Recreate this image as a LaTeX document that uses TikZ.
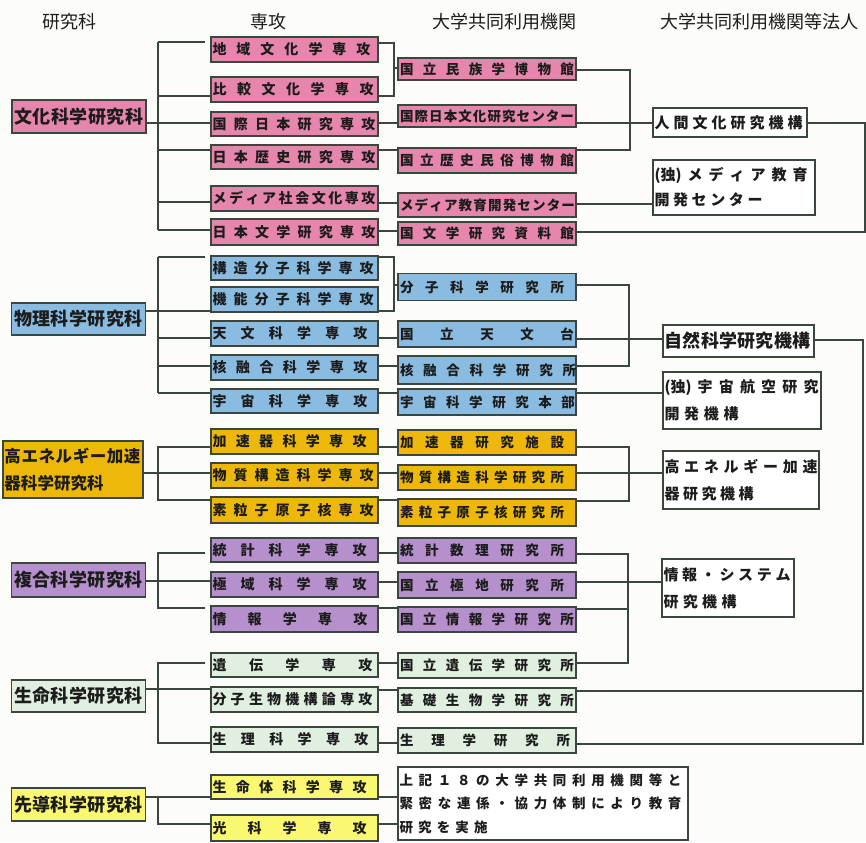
\documentclass[tikz,border=0pt]{standalone}
\usepackage{fontspec}
\newfontfamily\jp{Noto Sans CJK JP}
\makeatletter
\newcommand\spr[2]{\leavevmode\hbox to #1{\let\spr@sep\relax\@tfor\spr@c:=#2\do{\spr@sep\spr@c\let\spr@sep\hfill}}}
\makeatother
\newcommand\mj[2][161pt]{\hbox to 167pt{\hskip1.5pt\spr{#1}{#2}\hss}}
\newcommand\ins[2][174pt]{\hbox to 178pt{\hskip2pt\spr{#1}{#2}\hss}}
\definecolor{pinkc}{RGB}{230,134,172}
\definecolor{bluec}{RGB}{138,188,226}
\definecolor{goldc}{RGB}{238,184,10}
\definecolor{purpc}{RGB}{182,144,204}
\definecolor{greenc}{RGB}{224,239,224}
\definecolor{yelc}{RGB}{250,248,112}
\definecolor{bgc}{RGB}{252,252,248}
\definecolor{lc}{RGB}{58,70,62}
\definecolor{tx}{RGB}{28,28,28}
\begin{document}
\begin{tikzpicture}[x=1pt,y=-1pt,
  ln/.style={draw=lc,line width=1.2pt},
  bx/.style={draw=lc,line width=1.3pt,inner sep=0pt,anchor=center,text=tx},
  maj/.style={bx,minimum width=167pt,minimum height=25pt,font=\jp\bfseries\fontsize{14pt}{14pt}\selectfont},
  inst/.style={bx,minimum width=178pt,minimum height=24pt,font=\jp\bfseries\fontsize{13.5pt}{13.5pt}\selectfont},
  dept/.style={bx,minimum width=134pt,minimum height=33pt,font=\jp\bfseries\fontsize{18pt}{18pt}\selectfont},
  corp/.style={bx,fill=white,inner sep=1.5pt,align=left,font=\jp\bfseries\fontsize{15pt}{27pt}\selectfont},
  hdr/.style={inner sep=0pt,text=tx,font=\jp\fontsize{18pt}{18pt}\selectfont}]
\useasboundingbox (0,0) rectangle (866,842);
\fill[bgc] (0,0) rectangle (866,842);
% headers
\node[hdr] (h1) at (69,22) {研究科};
\node[hdr] (h2) at (268,22) {専攻};
\node[hdr] (h3) at (504,22) {大学共同利用機関};
\node[hdr] (h4) at (759,22) {大学共同利用機関等法人};
% departments
\node[dept,fill=pinkc] (d1) at (79,116.5) {\spr{129pt}{文化科学研究科}};
\node[dept,fill=bluec,minimum height=32pt] (d2) at (78.5,319) {\spr{129pt}{物理科学研究科}};
\node[dept,fill=goldc,minimum width=140pt,minimum height=57pt,inner sep=1.5pt,text width=137pt,align=left,font=\jp\bfseries\fontsize{16.5pt}{27pt}\selectfont] (d3) at (73,469.5) {\spr{136pt}{高エネルギー加速}\\器科学研究科};
\node[dept,fill=purpc,minimum height=34pt] (d4) at (78.5,580) {\spr{129pt}{複合科学研究科}};
\node[dept,fill=greenc,minimum height=32pt] (d5) at (78.5,696) {\spr{129pt}{生命科学研究科}};
\node[dept,fill=yelc] (d6) at (78.5,804.5) {\spr{129pt}{先導科学研究科}};
% majors
\node[maj,fill=pinkc] (m1) at (294.5,49.5) {\mj[158pt]{地域文化学専攻}};
\node[maj,fill=pinkc] (m2) at (294.5,89.5) {\mj{比較文化学専攻}};
\node[maj,fill=pinkc,minimum height=24pt] (m3) at (294.5,124) {\mj[163pt]{国際日本研究専攻}};
\node[maj,fill=pinkc,minimum height=24pt] (m4) at (294.5,157) {\mj[163pt]{日本歴史研究専攻}};
\node[maj,fill=pinkc] (m5) at (294.5,198.5) {\mj[163pt]{メディア社会文化専攻}};
\node[maj,fill=pinkc,minimum height=26pt] (m6) at (294.5,232) {\mj[163pt]{日本文学研究専攻}};
\node[maj,fill=bluec,minimum height=24pt] (m7) at (294.5,268) {\mj{構造分子科学専攻}};
\node[maj,fill=bluec] (m8) at (294.5,299.5) {\mj{機能分子科学専攻}};
\node[maj,fill=bluec] (m9) at (294.5,333.5) {\mj[155pt]{天文科学専攻}};
\node[maj,fill=bluec] (m10) at (294.5,367.5) {\mj[155pt]{核融合科学専攻}};
\node[maj,fill=bluec,minimum height=24pt] (m11) at (294.5,401) {\mj[155pt]{宇宙科学専攻}};
\node[maj,fill=goldc] (m12) at (294.5,441.5) {\mj[154pt]{加速器科学専攻}};
\node[maj,fill=goldc] (m13) at (294.5,475.5) {\mj{物質構造科学専攻}};
\node[maj,fill=goldc,minimum height=26pt] (m14) at (294.5,510) {\mj{素粒子原子核専攻}};
\node[maj,fill=purpc,minimum height=24pt] (m15) at (294.5,550) {\mj[154pt]{統計科学専攻}};
\node[maj,fill=purpc] (m16) at (294.5,584.5) {\mj[154pt]{極域科学専攻}};
\node[maj,fill=purpc,minimum height=26pt] (m17) at (294.5,619) {\mj[155pt]{情報学専攻}};
\node[maj,fill=greenc,minimum height=24pt] (m18) at (294.5,665) {\mj[160pt]{遺伝学専攻}};
\node[maj,fill=greenc] (m19) at (294.5,699.5) {\mj[160pt]{分子生物機構論専攻}};
\node[maj,fill=greenc] (m20) at (294.5,739.5) {\mj[156pt]{生理科学専攻}};
\node[maj,fill=yelc,minimum height=24pt] (m21) at (294.5,787) {\mj[154pt]{生命体科学専攻}};
\node[maj,fill=yelc,minimum height=26pt] (m22) at (294.5,828) {\mj[154pt]{光科学専攻}};
% institutes
\node[inst,fill=pinkc,minimum height=22pt] (i1) at (487,69) {\ins{国立民族学博物館}};
\node[inst,fill=pinkc,minimum height=22pt] (i2) at (487,116) {\ins{国際日本文化研究センター}};
\node[inst,fill=pinkc,minimum height=25pt] (i3) at (487,160.5) {\ins{国立歴史民俗博物館}};
\node[inst,fill=pinkc] (i4) at (487,205) {\ins[175pt]{メディア教育開発センター}};
\node[inst,fill=pinkc,minimum height=23pt] (i5) at (487,233.5) {\ins{国文学研究資料館}};
\node[inst,fill=bluec,minimum height=27pt] (i6) at (487,287) {\ins[164pt]{分子科学研究所}};
\node[inst,fill=bluec,minimum height=26pt] (i7) at (487,334) {\ins{国立天文台}};
\node[inst,fill=bluec,minimum height=28pt] (i8) at (487,370) {\ins[176pt]{核融合科学研究所}};
\node[inst,fill=bluec,minimum height=26pt] (i9) at (487,402) {\ins[175pt]{宇宙科学研究本部}};
\node[inst,fill=goldc,minimum height=25pt] (i10) at (487,442.5) {\ins[164pt]{加速器研究施設}};
\node[inst,fill=goldc,minimum height=25pt] (i11) at (487,477.5) {\ins[164pt]{物質構造科学研究所}};
\node[inst,fill=goldc,minimum height=27pt] (i12) at (487,512.5) {\ins[164pt]{素粒子原子核研究所}};
\node[inst,fill=purpc,minimum height=25pt] (i13) at (487,550.5) {\ins[164pt]{統計数理研究所}};
\node[inst,fill=purpc,minimum height=26pt] (i14) at (487,585) {\ins[164pt]{国立極地研究所}};
\node[inst,fill=purpc,minimum height=25pt] (i15) at (487,619.5) {\ins{国立情報学研究所}};
\node[inst,fill=greenc,minimum height=25pt] (i16) at (487,665.5) {\ins{国立遺伝学研究所}};
\node[inst,fill=greenc] (i17) at (487,700) {\ins{基礎生物学研究所}};
\node[inst,fill=greenc,minimum height=25pt] (i18) at (487,740.5) {\ins[170pt]{生理学研究所}};
\node[corp,minimum width=290pt,minimum height=73pt,text width=287pt,font=\jp\bfseries\fontsize{13.5pt}{23.5pt}\selectfont] (t) at (543,803.5) {\spr{282pt}{上記１８の大学共同利用機関等と}\\\spr{282pt}{緊密な連係・協力体制により教育}\\\spr{88pt}{研究を実施}};
% corporations
\node[corp,minimum width=154pt,minimum height=29pt,text width=151pt] (r1) at (730,122.5) {\spr{148pt}{人間文化研究機構}};
\node[corp,minimum width=162pt,minimum height=55pt,text width=159pt,font=\jp\bfseries\fontsize{15pt}{25pt}\selectfont] (r2) at (734,187.5) {\spr{153pt}{{(独)}メディア教育}\\\spr{108pt}{開発センター}};
\node[corp,minimum width=151pt,minimum height=32pt,text width=148pt,font=\jp\bfseries\fontsize{18pt}{18pt}\selectfont] (r3) at (738.5,341) {\spr{146pt}{自然科学研究機構}};
\node[corp,minimum width=158pt,minimum height=57pt,text width=155pt] (r4) at (742,400.5) {\spr{154pt}{{(独)}宇宙航空研究}\\\spr{74pt}{開発機構}};
\node[corp,minimum width=156pt,minimum height=58pt,text width=153pt] (r5) at (741,480) {\spr{153pt}{高エネルギー加速}\\\spr{89pt}{器研究機構}};
\node[corp,minimum width=132pt,minimum height=58pt,text width=129pt] (r6) at (728,588) {\spr{127pt}{情報・システム}\\\spr{73pt}{研究機構}};
% ---------- connectors: departments to majors ----------
\coordinate (a1t) at (158,42); \coordinate (a1b) at (158,230);
\draw[ln] (a1t) -- (a1b);
\draw[ln,shorten <=5pt] (m1.west|-0,42) -- (a1t);
\draw[ln] (m2.west|-0,96) -- (a1t|-0,96);
\draw[ln] (d1.east|-0,123) -- (m3.west|-0,123);
\draw[ln] (m4.west|-0,150) -- (a1t|-0,150);
\draw[ln] (m5.west|-0,202) -- (a1t|-0,202);
\draw[ln] (m6.west|-0,230) -- (a1b);
\coordinate (a2t) at (158,257); \coordinate (a2b) at (158,393);
\draw[ln] (a2t) -- (a2b);
\draw[ln,shorten <=5pt] (m7.west|-0,257) -- (a2t);
\draw[ln] (d2.east|-0,311) -- (m8.west|-0,311);
\draw[ln] (m9.west|-0,338) -- (a2t|-0,338);
\draw[ln] (m10.west|-0,366) -- (a2t|-0,366);
\draw[ln] (m11.west|-0,393) -- (a2b);
\coordinate (a3t) at (158,447); \coordinate (a3b) at (158,500);
\draw[ln] (m12.west|-0,447) -- (a3t) -- (a3b) -- (m14.west|-0,500);
\draw[ln] (d3.east|-0,473) -- (m13.west|-0,473);
\coordinate (a4t) at (158,553); \coordinate (a4b) at (158,608);
\draw[ln,shorten <=5pt,shorten >=5pt] (m15.west|-0,553) -- (a4t) -- (a4b) -- (m17.west|-0,608);
\draw[ln] (d4.east|-0,581) -- (m16.west|-0,581);
\coordinate (a5t) at (158,663); \coordinate (a5b) at (158,743);
\draw[ln,shorten <=5pt] (m18.west|-0,663) -- (a5t) -- (a5b) -- (m20.west|-0,743);
\draw[ln] (d5.east|-0,689) -- (m19.west|-0,689);
\coordinate (a6b) at (158,824);
\draw[ln] (d6.east|-0,797) -- (m21.west|-0,797);
\draw[ln] (a6b|-0,797) -- (a6b) -- (m22.west|-0,824);
% ---------- majors to institutes ----------
\coordinate (c1) at (394,68);
\draw[ln] (m1.east|-0,43) -| (c1) |- (m2.east|-0,96);
\draw[ln] (c1) -- (i1.west|-c1);
\draw[ln] (m3.east|-0,123) -- (i2.west|-0,123);
\draw[ln] (m4.east|-0,150) -- (i3.west|-0,150);
\draw[ln] (m5.east|-0,203) -- (i4.west|-0,203);
\draw[ln] (m6.east|-0,231) -- (i5.west|-0,231);
\coordinate (c2) at (394,285);
\draw[ln] (m7.east|-0,257) -| (c2) |- (m8.east|-0,311);
\draw[ln] (c2) -- (i6.west|-c2);
\draw[ln] (m9.east|-0,338) -- (i7.west|-0,338);
\draw[ln] (m10.east|-0,366) -- (i8.west|-0,366);
\draw[ln] (m11.east|-0,393) -- (i9.west|-0,393);
\draw[ln] (m12.east|-0,447) -- (i10.west|-0,447);
\draw[ln] (m13.east|-0,473) -- (i11.west|-0,473);
\draw[ln] (m14.east|-0,500) -- (i12.west|-0,500);
\draw[ln] (m15.east|-0,553) -- (i13.west|-0,553);
\draw[ln] (m16.east|-0,582) -- (i14.west|-0,582);
\draw[ln] (m17.east|-0,608) -- (i15.west|-0,608);
\draw[ln] (m18.east|-0,663) -- (i16.west|-0,663);
\draw[ln] (m19.east|-0,690) -- (i17.west|-0,690);
\draw[ln] (m20.east|-0,743) -- (i18.west|-0,743);
\draw[ln] (m21.east|-0,797) -- (t.west|-0,797);
\draw[ln] (m22.east|-0,824) -- (t.west|-0,824);
% ---------- institutes to corporations ----------
\coordinate (e1) at (630,110);
\draw[ln] (i1.east|-0,70) -| (e1) |- (i3.east|-0,150);
\draw[ln] (i2.east|-0,123) -- (r1.west|-0,123);
\draw[ln] (i4.east|-0,204) -- (r2.west|-0,204);
\coordinate (e2) at (865,180);
\draw[ln] (i5.east|-0,232) -| (e2) |- (r1.east|-0,123);
\coordinate (e3) at (629,320);
\draw[ln] (i6.east|-0,285) -| (e3) |- (i8.east|-0,366);
\draw[ln] (i7.east|-0,339) -- (r3.west|-0,339);
\coordinate (e4) at (863,520);
\draw[ln] (r3.east|-0,340) -| (e4) |- (i18.east|-0,744);
\draw[ln] (i17.east|-0,691) -- (e4|-0,691);
\draw[ln] (i9.east|-0,393) -- (r4.west|-0,393);
\coordinate (e5) at (629,470);
\draw[ln] (i10.east|-0,447) -| (e5) |- (i12.east|-0,501);
\draw[ln] (i11.east|-0,473) -- (r5.west|-0,473);
\coordinate (e6) at (628,600);
\draw[ln] (i13.east|-0,554) -| (e6) |- (i16.east|-0,663);
\draw[ln] (i15.east|-0,609) -- (e6|-0,609);
\draw[ln] (i14.east|-0,582) -- (r6.west|-0,582);
\end{tikzpicture}
\end{document}
